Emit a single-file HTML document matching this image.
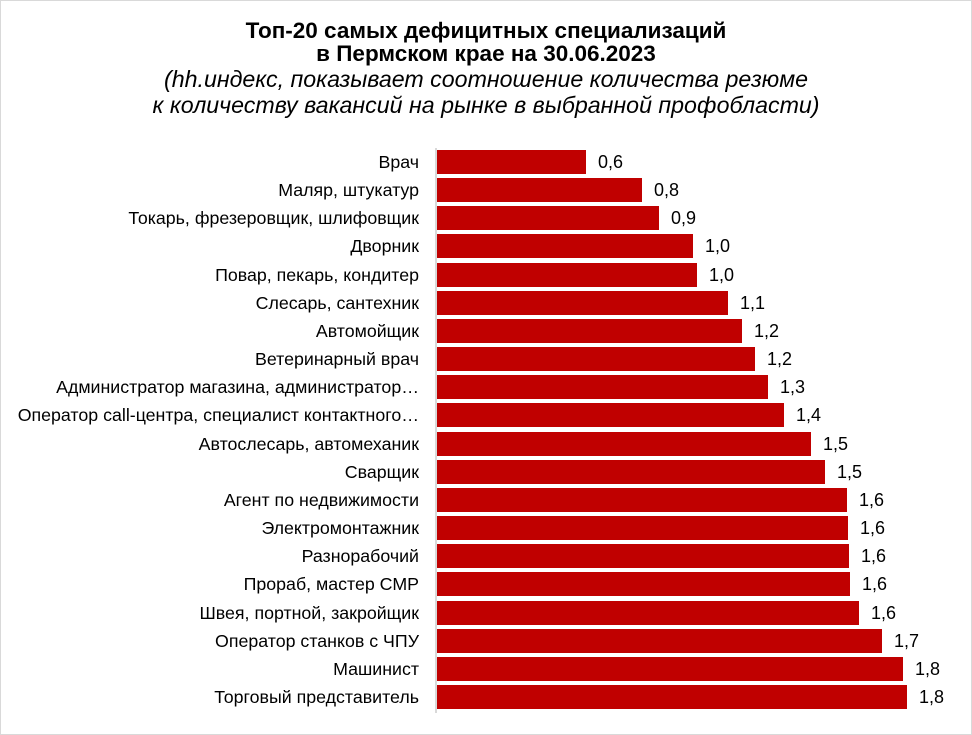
<!DOCTYPE html>
<html><head><meta charset="utf-8"><style>
body{margin:0;background:#fff;}
#c{position:relative;width:970px;height:733px;border:1px solid #d9d9d9;font-family:"Liberation Sans",Arial,sans-serif;color:#000;overflow:hidden;}
.t{position:absolute;left:0;width:970px;text-align:center;white-space:nowrap;line-height:24px;}
.b{font-weight:bold;font-size:22.5px;}
.i{font-style:italic;font-size:23.2px;}
.l{position:absolute;right:552px;font-size:17.8px;white-space:nowrap;line-height:24px;}
.bar{position:absolute;left:436px;height:24px;background:#c00000;}
.v{position:absolute;font-size:18px;line-height:24px;}
#ax{position:absolute;left:434px;top:147px;width:2px;height:565px;background:#d9d9d9;}
</style></head><body><div id="c">
<div class="t b" style="top:18px">Топ-20 самых дефицитных специализаций</div>
<div class="t b" style="top:41px">в Пермском крае на 30.06.2023</div>
<div class="t i" style="top:66px">(hh.индекс, показывает соотношение количества резюме</div>
<div class="t i" style="top:92px">к количеству вакансий на рынке в выбранной профобласти)</div>
<div id="ax"></div>
<div id="rows"></div>
</div>
<script>
var d=[["Врач",585,"0,6"],["Маляр,  штукатур",641,"0,8"],["Токарь, фрезеровщик, шлифовщик",658,"0,9"],["Дворник",692,"1,0"],["Повар, пекарь, кондитер",696,"1,0"],["Слесарь, сантехник",727,"1,1"],["Автомойщик",741,"1,2"],["Ветеринарный врач",754,"1,2"],["Администратор магазина, администратор…",767,"1,3"],["Оператор call-центра, специалист  контактного…",783,"1,4"],["Автослесарь, автомеханик",810,"1,5"],["Сварщик",824,"1,5"],["Агент по недвижимости",846,"1,6"],["Электромонтажник",847,"1,6"],["Разнорабочий",848,"1,6"],["Прораб, мастер СМР",849,"1,6"],["Швея, портной, закройщик",858,"1,6"],["Оператор станков с ЧПУ",881,"1,7"],["Машинист",902,"1,8"],["Торговый представитель",906,"1,8"]];
var h="";
for(var i=0;i<20;i++){var y=149+i*28.16;
h+='<div class="l" style="top:'+y+'px">'+d[i][0]+'</div>';
h+='<div class="bar" style="top:'+y+'px;width:'+(d[i][1]-436)+'px"></div>';
h+='<div class="v" style="top:'+y+'px;left:'+(d[i][1]+12)+'px">'+d[i][2]+'</div>';}
document.getElementById("rows").innerHTML=h;
</script>
</body></html>
